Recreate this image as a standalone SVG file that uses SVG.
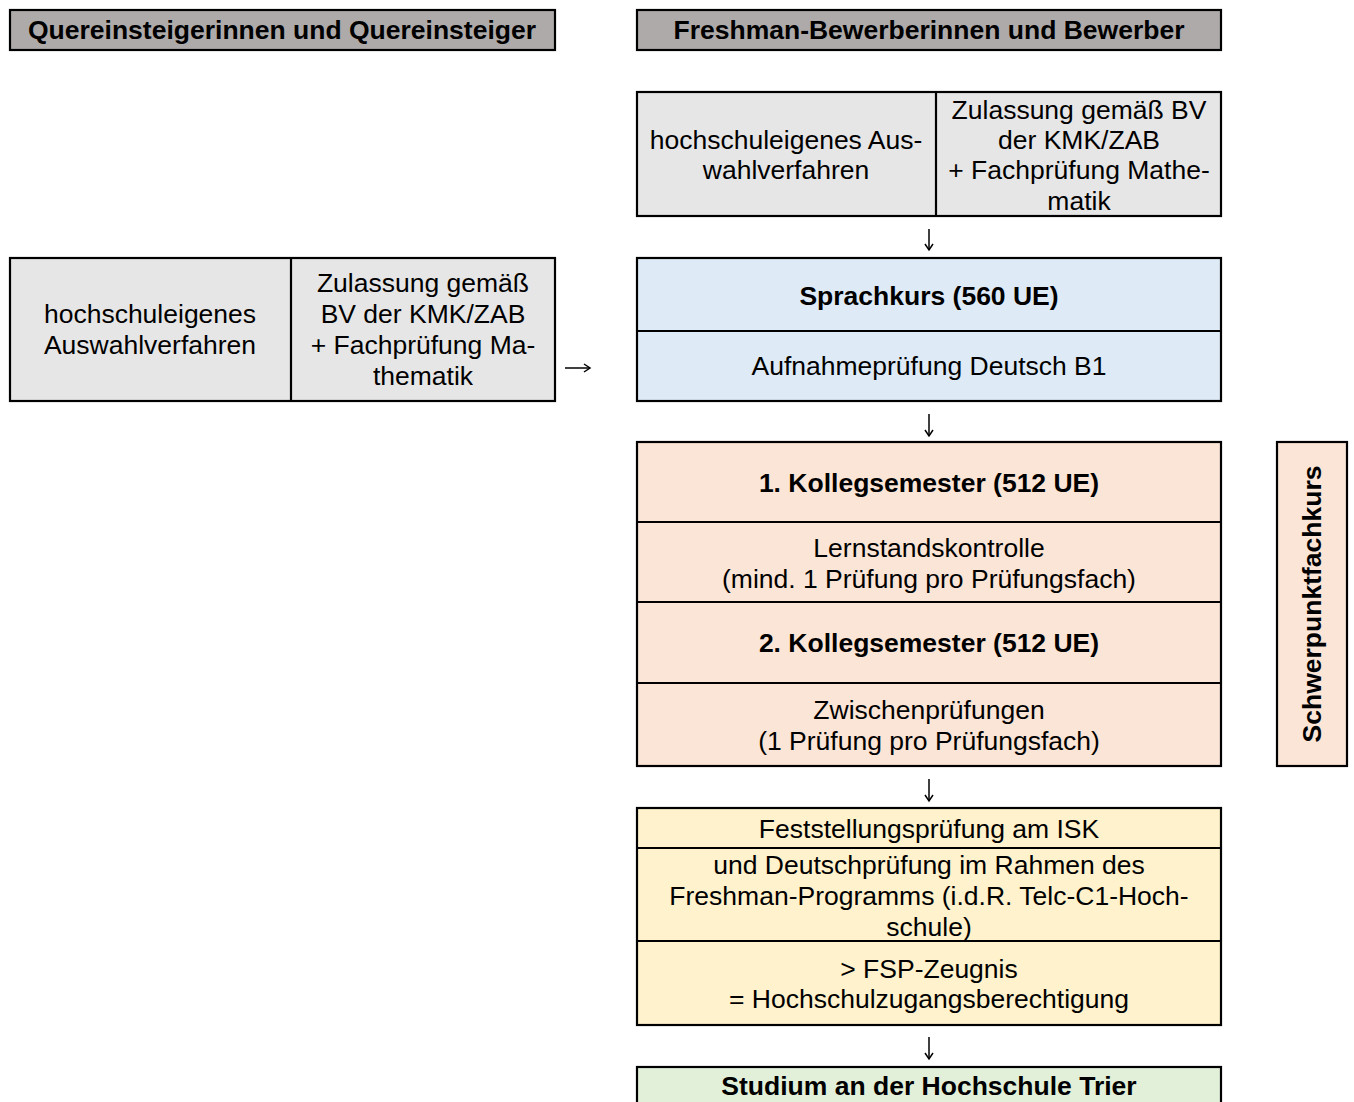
<svg xmlns="http://www.w3.org/2000/svg" width="1354" height="1102" viewBox="0 0 1354 1102">
<defs>
<style>
text{font-family:"Liberation Sans",Arial,sans-serif;font-size:26.5px;fill:#000;text-anchor:middle}
.b{font-weight:bold}
.box{stroke:#000;stroke-width:2.2}
.div{stroke:#000;stroke-width:2.2;fill:none}
.hdr{fill:#AEAAAA}
.gray{fill:#E7E6E6}
.blue{fill:#DEEBF7}
.peach{fill:#FBE5D6}
.yel{fill:#FFF2CC}
.grn{fill:#E2F0D9}
.arr{stroke:#000;stroke-width:1.5;fill:none}
</style>
<marker id="ah" markerWidth="10" markerHeight="10" refX="8" refY="5" orient="auto" markerUnits="userSpaceOnUse">
<path d="M2,1 L8,5 L2,9" fill="none" stroke="#000" stroke-width="1.5"/>
</marker>
</defs>
<rect width="1354" height="1102" fill="#fff"/>

<g id="hdr-quer">
<rect class="box hdr" x="10" y="10" width="545" height="40"/>
<text class="b" x="282" y="39">Quereinsteigerinnen und Quereinsteiger</text>
</g>
<g id="hdr-fresh">
<rect class="box hdr" x="637" y="10" width="584" height="40"/>
<text class="b" x="929" y="39">Freshman-Bewerberinnen und Bewerber</text>
</g>

<g id="fresh-zulassung">
<rect class="box gray" x="637" y="92" width="584" height="124"/>
<line class="div" x1="936" y1="92" x2="936" y2="216"/>
<text x="786" y="149">hochschuleigenes Aus-</text>
<text x="786" y="179">wahlverfahren</text>
<text x="1079" y="119">Zulassung gemäß BV</text>
<text x="1079" y="149">der KMK/ZAB</text>
<text x="1079" y="179">+ Fachprüfung Mathe-</text>
<text x="1079" y="210">matik</text>
</g>

<g id="quer-zulassung">
<rect class="box gray" x="10" y="258" width="545" height="143"/>
<line class="div" x1="291" y1="258" x2="291" y2="401"/>
<text x="150" y="323">hochschuleigenes</text>
<text x="150" y="354">Auswahlverfahren</text>
<text x="423" y="292">Zulassung gemäß</text>
<text x="423" y="323">BV der KMK/ZAB</text>
<text x="423" y="354">+ Fachprüfung Ma-</text>
<text x="423" y="385">thematik</text>
</g>

<g id="sprachkurs">
<rect class="box blue" x="637" y="258" width="584" height="143"/>
<line class="div" x1="637" y1="331" x2="1221" y2="331"/>
<text class="b" x="929" y="305">Sprachkurs (560 UE)</text>
<text x="929" y="375">Aufnahmeprüfung Deutsch B1</text>
</g>

<g id="kolleg">
<rect class="box peach" x="637" y="442" width="584" height="324"/>
<line class="div" x1="637" y1="522" x2="1221" y2="522"/>
<line class="div" x1="637" y1="602" x2="1221" y2="602"/>
<line class="div" x1="637" y1="683" x2="1221" y2="683"/>
<text class="b" x="929" y="492">1. Kollegsemester (512 UE)</text>
<text x="929" y="557">Lernstandskontrolle</text>
<text x="929" y="588">(mind. 1 Prüfung pro Prüfungsfach)</text>
<text class="b" x="929" y="652">2. Kollegsemester (512 UE)</text>
<text x="929" y="719">Zwischenprüfungen</text>
<text x="929" y="750">(1 Prüfung pro Prüfungsfach)</text>
</g>

<g id="schwerpunkt">
<rect class="box peach" x="1277" y="442" width="70" height="324"/>
<text class="b" transform="translate(1321,604) rotate(-90)" x="0" y="0">Schwerpunktfachkurs</text>
</g>

<g id="fsp">
<rect class="box yel" x="637" y="808" width="584" height="217"/>
<line class="div" x1="637" y1="848" x2="1221" y2="848"/>
<line class="div" x1="637" y1="941" x2="1221" y2="941"/>
<text x="929" y="838">Feststellungsprüfung am ISK</text>
<text x="929" y="874">und Deutschprüfung im Rahmen des</text>
<text x="929" y="905">Freshman-Programms (i.d.R. Telc-C1-Hoch-</text>
<text x="929" y="936">schule)</text>
<text x="929" y="978">&gt; FSP-Zeugnis</text>
<text x="929" y="1008">= Hochschulzugangsberechtigung</text>
</g>

<g id="studium">
<rect class="box grn" x="637" y="1067" width="584" height="60"/>
<text class="b" x="929" y="1095">Studium an der Hochschule Trier</text>
</g>

<g id="connectors">
<line class="arr" x1="929" y1="229" x2="929" y2="250" marker-end="url(#ah)"/>
<line class="arr" x1="565" y1="368" x2="590" y2="368" marker-end="url(#ah)"/>
<line class="arr" x1="929" y1="414" x2="929" y2="436" marker-end="url(#ah)"/>
<line class="arr" x1="929" y1="779" x2="929" y2="801" marker-end="url(#ah)"/>
<line class="arr" x1="929" y1="1037" x2="929" y2="1059" marker-end="url(#ah)"/>
</g>
</svg>
